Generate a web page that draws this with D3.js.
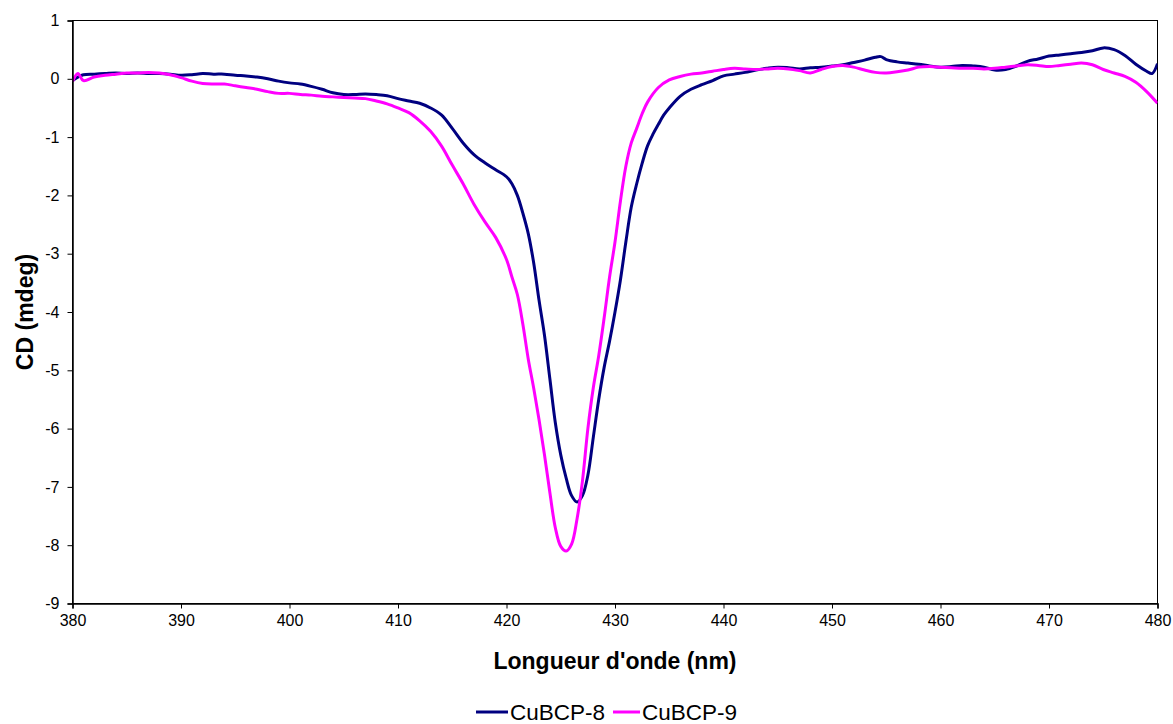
<!DOCTYPE html>
<html>
<head>
<meta charset="utf-8">
<script src="https://cdn.jsdelivr.net/npm/d3@7"></script>
<style>
  html, body { margin: 0; padding: 0; background: #fff; }
  svg { display: block; font-family: Arial, "Liberation Sans", sans-serif; }
</style>
</head>
<body>
<svg id="chart" width="1173" height="724"></svg>
<script>
// ---- data ----
const seriesNames = ["CuBCP-8", "CuBCP-9"];
const seriesColors = ["#000080", "#FF00FF"];

const wl8 = [380,380.5,381,382,383,384,385,386,387,388,389,390,391,392,393,394,395,396,397,398,399,400,401,402,403,404,405,406,407,408,409,410,411,412,413,414,415,416,417,418,419,420,420.5,421,421.5,422,422.5,423,423.5,424,424.5,425,425.5,426,426.5,427,427.5,428,428.5,429,429.5,430,430.5,431,431.5,432,432.5,433,433.5,434,434.5,435,436,437,438,439,440,441,442,443,444,445,446,447,448,449,450,451,452,453,454,454.5,455,456,457,458,459,460,461,462,463,464,465,466,467,468,469,470,471,472,473,474,475,476,477,478,479,479.5,480];
const cd8 = [-0.03,0.03,0.07,0.08,0.09,0.1,0.09,0.1,0.09,0.09,0.08,0.06,0.07,0.09,0.08,0.08,0.06,0.05,0.03,0.0,-0.04,-0.07,-0.09,-0.13,-0.18,-0.24,-0.27,-0.27,-0.26,-0.27,-0.29,-0.34,-0.38,-0.42,-0.5,-0.62,-0.85,-1.1,-1.3,-1.44,-1.56,-1.68,-1.8,-2.0,-2.3,-2.65,-3.15,-3.8,-4.4,-5.15,-5.9,-6.45,-6.85,-7.15,-7.26,-7.15,-6.8,-6.15,-5.5,-4.95,-4.5,-4.0,-3.45,-2.8,-2.2,-1.8,-1.45,-1.15,-0.95,-0.78,-0.62,-0.5,-0.3,-0.18,-0.1,-0.03,0.05,0.08,0.11,0.15,0.18,0.2,0.19,0.17,0.19,0.2,0.22,0.24,0.28,0.32,0.37,0.38,0.33,0.29,0.27,0.25,0.22,0.2,0.21,0.23,0.22,0.2,0.15,0.16,0.22,0.3,0.34,0.39,0.41,0.43,0.45,0.48,0.53,0.5,0.4,0.25,0.13,0.09,0.26];

const wl9 = [380,380.5,381,382,383,384,385,386,387,388,389,390,391,392,393,394,395,396,397,398,399,400,401,402,403,404,405,406,407,408,409,410,411,412,413,414,415,416,417,418,419,420,420.5,421,421.5,422,422.5,423,423.5,424,424.5,425,425.5,426,426.5,427,427.5,428,428.5,429,429.5,430,430.5,431,431.5,432,432.5,433,434,435,436,437,438,439,440,441,442,443,444,445,446,447,448,449,450,451,452,453,454,455,456,457,458,459,460,461,462,463,464,465,466,467,468,469,470,471,472,473,474,475,476,477,478,479,480];
const cd9 = [-0.05,0.09,-0.03,0.03,0.06,0.08,0.1,0.1,0.11,0.1,0.07,0.02,-0.04,-0.08,-0.09,-0.09,-0.12,-0.15,-0.18,-0.22,-0.25,-0.25,-0.27,-0.28,-0.3,-0.31,-0.32,-0.33,-0.34,-0.38,-0.43,-0.5,-0.58,-0.72,-0.9,-1.15,-1.48,-1.8,-2.15,-2.45,-2.72,-3.1,-3.4,-3.7,-4.2,-4.8,-5.3,-5.85,-6.45,-7.1,-7.7,-8.02,-8.1,-7.98,-7.55,-6.9,-6.0,-5.3,-4.75,-4.1,-3.4,-2.8,-2.1,-1.5,-1.1,-0.85,-0.6,-0.4,-0.15,-0.02,0.04,0.08,0.1,0.13,0.16,0.18,0.17,0.16,0.17,0.18,0.17,0.14,0.1,0.16,0.21,0.23,0.2,0.15,0.11,0.1,0.12,0.15,0.2,0.21,0.2,0.19,0.18,0.18,0.17,0.18,0.2,0.22,0.24,0.23,0.21,0.23,0.25,0.27,0.24,0.16,0.1,0.04,-0.06,-0.22,-0.42];

const xTicks = [380,390,400,410,420,430,440,450,460,470,480];
const yTicks = [1,0,-1,-2,-3,-4,-5,-6,-7,-8,-9];
const xTitle = "Longueur d'onde (nm)";
const yTitle = "CD (mdeg)";

// ---- layout ----
const W = 1173, H = 724;
const m = { left: 72.5, right: 1157.5, top: 20.5, bottom: 603.5 };

const svg = d3.select("#chart");
const x = d3.scaleLinear().domain([380, 480]).range([m.left, m.right]);
const y = d3.scaleLinear().domain([-9, 1]).range([m.bottom, m.top]);

// plot border
svg.append("rect")
  .attr("x", m.left).attr("y", m.top)
  .attr("width", m.right - m.left).attr("height", m.bottom - m.top)
  .attr("fill", "none").attr("stroke", "#000").attr("stroke-width", 1);

// clip
svg.append("clipPath").attr("id", "clip")
  .append("rect").attr("x", m.left).attr("y", m.top - 5)
  .attr("width", m.right - m.left).attr("height", m.bottom - m.top + 5);

// lines
const series = [
  { name: seriesNames[0], color: seriesColors[0], xs: wl8, ys: cd8 },
  { name: seriesNames[1], color: seriesColors[1], xs: wl9, ys: cd9 }
];
const line = d3.line().x(d => x(d[0])).y(d => y(d[1])).curve(d3.curveCatmullRom.alpha(0.5));
const g = svg.append("g").attr("clip-path", "url(#clip)");
series.forEach(s => {
  g.append("path")
    .datum(s.xs.map((v, i) => [v, s.ys[i]]))
    .attr("fill", "none")
    .attr("stroke", s.color)
    .attr("stroke-width", 3)
    .attr("stroke-linejoin", "round")
    .attr("d", line);
});

// axes
const xAxis = d3.axisBottom(x).tickValues(xTicks).tickSize(5).tickPadding(6).tickFormat(d3.format("d"));
const yAxis = d3.axisLeft(y).tickValues(yTicks).tickSize(5).tickPadding(8).tickFormat(d => d);

const gx = svg.append("g").attr("transform", `translate(0,${m.bottom})`).call(xAxis);
const gy = svg.append("g").attr("transform", `translate(${m.left},0)`).call(yAxis);
[gx, gy].forEach(a => {
  a.select(".domain").attr("stroke", "#000").attr("stroke-width", 1.5);
  a.selectAll(".tick line").attr("stroke", "#000").attr("stroke-width", 1);
  a.selectAll(".tick text").attr("fill", "#000").style("font-size", "16px")
    .style("font-family", "Arial, 'Liberation Sans', sans-serif");
});

// titles
svg.append("text")
  .attr("x", (m.left + m.right) / 2).attr("y", 669)
  .attr("text-anchor", "middle")
  .style("font-size", "23px").style("font-weight", "bold")
  .text(xTitle);

svg.append("text")
  .attr("transform", `translate(33,${(m.top + m.bottom) / 2}) rotate(-90)`)
  .attr("text-anchor", "middle")
  .style("font-size", "23px").style("font-weight", "bold")
  .text(yTitle);

// legend
const leg = svg.append("g");
const legItems = [
  { x0: 476, x1: 508, tx: 510 },
  { x0: 613, x1: 640, tx: 642 }
];
series.forEach((s, i) => {
  const it = legItems[i];
  leg.append("line")
    .attr("x1", it.x0).attr("x2", it.x1).attr("y1", 712).attr("y2", 712)
    .attr("stroke", s.color).attr("stroke-width", 3);
  leg.append("text")
    .attr("x", it.tx).attr("y", 720)
    .style("font-size", "22.5px")
    .text(s.name);
});
</script>
</body>
</html>
